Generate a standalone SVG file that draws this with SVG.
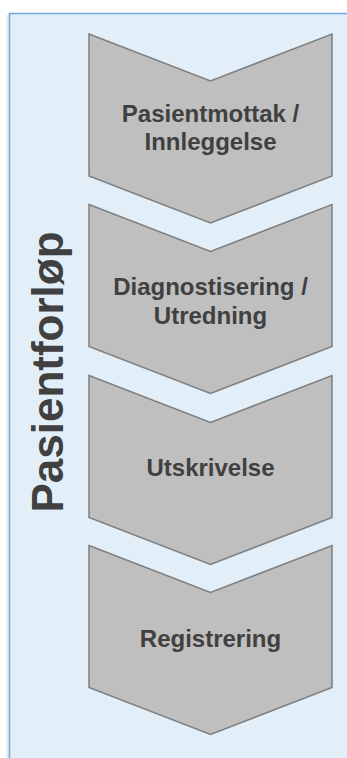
<svg xmlns="http://www.w3.org/2000/svg" width="347" height="758" viewBox="0 0 347 758">
  <style>
    .chev { fill: #bfbfbf; stroke: #7f7f7f; stroke-width: 1.5; stroke-linejoin: miter; }
    .lbl { font-family: "Liberation Sans", Arial, sans-serif; font-weight: bold; font-size: 24px; fill: #404040; text-anchor: middle; }
    .title { font-family: "Liberation Sans", Arial, sans-serif; font-weight: bold; font-size: 44px; fill: #404040; text-anchor: middle; }
  </style>
  <rect x="0" y="0" width="347" height="758" fill="#ffffff"/>
  <g id="lane">
    <rect x="6" y="15" width="3" height="743" fill="#000000" opacity="0.07"/>
    <rect x="9.5" y="13.5" width="350" height="760" fill="#e2eff8" stroke="#6fa8dc" stroke-width="1.5"/>
    <text class="title" transform="translate(62.5,372) rotate(-90)">Pasientforløp</text>
  </g>
  <g id="connectors"></g>
  <g id="node1">
    <path class="chev" d="M89,34 L210.5,81 L332,34 L332,176 L210.5,223 L89,176 Z"/>
    <text class="lbl" x="210.5" y="122">Pasientmottak /</text>
    <text class="lbl" x="210.5" y="150">Innleggelse</text>
  </g>
  <g id="node2">
    <path class="chev" d="M89,204.5 L210.5,251.5 L332,204.5 L332,346.5 L210.5,393.5 L89,346.5 Z"/>
    <text class="lbl" x="210.5" y="295">Diagnostisering /</text>
    <text class="lbl" x="210.5" y="324">Utredning</text>
  </g>
  <g id="node3">
    <path class="chev" d="M89,375.5 L210.5,422.5 L332,375.5 L332,517.5 L210.5,564.5 L89,517.5 Z"/>
    <text class="lbl" x="210.5" y="476">Utskrivelse</text>
  </g>
  <g id="node4">
    <path class="chev" d="M89,545.5 L210.5,592.5 L332,545.5 L332,687.5 L210.5,734.5 L89,687.5 Z"/>
    <text class="lbl" x="210.5" y="647">Registrering</text>
  </g>
</svg>
